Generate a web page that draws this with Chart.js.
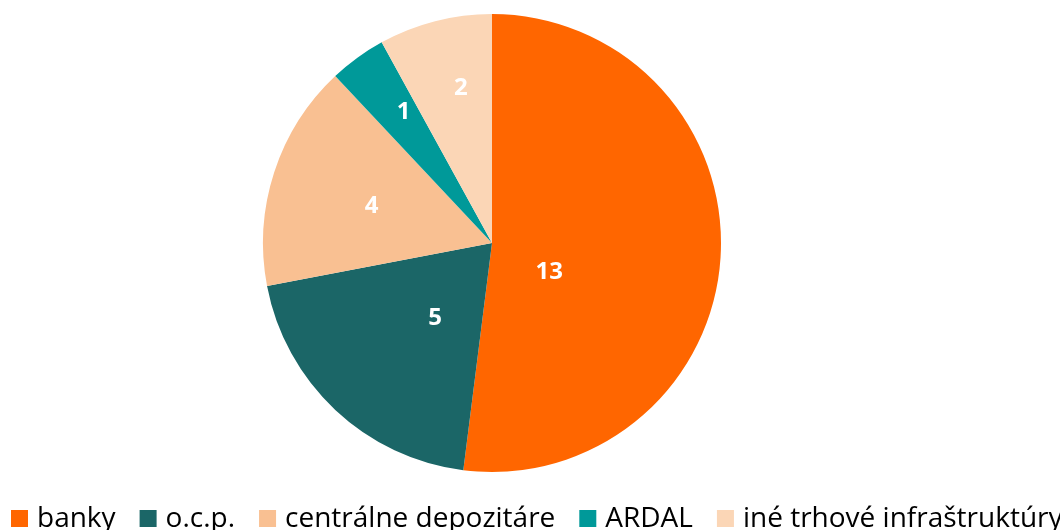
<!DOCTYPE html>
<html><head><meta charset="utf-8">
<script src="https://cdn.jsdelivr.net/npm/chart.js@4"></script>
<style>html,body{margin:0;padding:0;background:#fff;overflow:hidden}#w{width:1060px;height:530px}</style>
</head><body><div id="w"><canvas id="c"></canvas></div>
<script>
const categories = ["banky", "o.c.p.", "centrálne depozitáre", "ARDAL", "iné trhové infraštruktúry"];
const values = [13, 5, 4, 1, 2];
const colors = ["#FF6600", "#1B6667", "#F9C092", "#009999", "#FBD6B6"];
// label placement tweaks (fraction of radius, angle shift in degrees)
const labelRadius = [0.28, 0.41, 0.55, 0.69, 0.69];
const labelShift = [23, -6, -1, 2, 3];

const labelPlugin = {
  id: 'lbl',
  afterDatasetsDraw(chart) {
    const ctx = chart.ctx;
    const meta = chart.getDatasetMeta(0);
    ctx.save();
    ctx.fillStyle = '#fff';
    ctx.font = 'bold 24px "Open Sans", Lato, sans-serif';
    ctx.textAlign = 'center';
    ctx.textBaseline = 'middle';
    meta.data.forEach((arc, i) => {
      const p = arc.getProps(['x','y','startAngle','endAngle','outerRadius'], true);
      const a = (p.startAngle + p.endAngle) / 2 + labelShift[i] * Math.PI / 180;
      const r = p.outerRadius * labelRadius[i];
      ctx.fillText(String(values[i]), p.x + Math.cos(a) * r, p.y + Math.sin(a) * r);
    });
    ctx.restore();
  },
  afterDraw(chart) {
    const ctx = chart.ctx;
    ctx.save();
    ctx.font = '28px "Open Sans", Lato, sans-serif';
    ctx.textBaseline = 'alphabetic';
    let x = 11;
    const y = 527;
    categories.forEach((c, i) => {
      ctx.fillStyle = colors[i];
      ctx.fillRect(x, 510, 17, 17);
      x += 26;
      ctx.fillStyle = '#000';
      ctx.fillText(c, x, y);
      x += ctx.measureText(c).width + 24;
    });
    ctx.restore();
  }
};

new Chart(document.getElementById('c'), {
  type: 'pie',
  data: {
    labels: categories,
    datasets: [{ data: values, backgroundColor: colors, borderWidth: 0 }]
  },
  options: {
    responsive: true,
    maintainAspectRatio: false,
    animation: false,
    layout: { padding: { left: 263, right: 339, top: 14, bottom: 58 } },
    plugins: { legend: { display: false }, tooltip: { enabled: false } }
  },
  plugins: [labelPlugin]
});
</script></body></html>
